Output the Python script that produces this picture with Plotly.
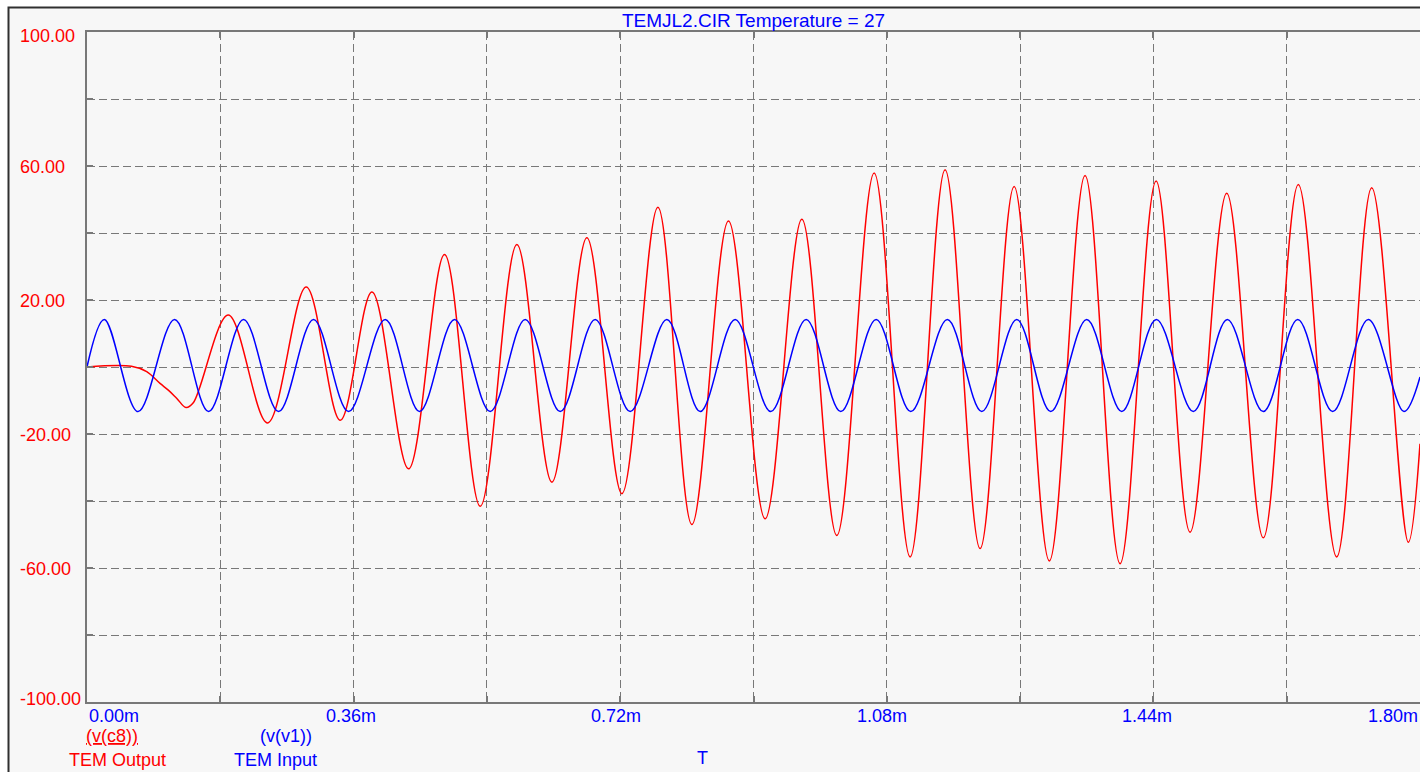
import plotly.graph_objects as go

# ---------------- data (time in ms, volts) ----------------
input_t = [0.0, 0.0234, 0.0689, 0.1183, 0.1642, 0.2114, 0.2587, 0.3059, 0.3532,
           0.4027, 0.4490, 0.4963, 0.5445, 0.5917, 0.6390, 0.6862, 0.7335,
           0.7830, 0.8280, 0.8752, 0.9234, 0.9711, 1.0179, 1.0656, 1.1124,
           1.1618, 1.2083, 1.2555, 1.3014, 1.3500, 1.3973, 1.4440, 1.4939,
           1.5398, 1.5884, 1.6349, 1.6821, 1.7302, 1.7784, 1.8000]
input_v = [0.0, 14.2, -13.3, 14.2, -13.3, 14.2, -13.3, 14.2, -13.3,
           14.2, -13.3, 14.2, -13.3, 14.2, -13.3, 14.2, -13.3,
           14.2, -13.3, 14.2, -13.3, 14.2, -13.3, 14.2, -13.3,
           14.2, -13.3, 14.2, -13.3, 14.2, -13.3, 14.2, -13.3,
           14.2, -13.3, 14.2, -13.3, 14.2, -13.3, -3.0]

output_t = [0.0, 0.0600, 0.0806, 0.0986, 0.1098, 0.1210, 0.1337, 0.1435,
            0.1908, 0.2438, 0.2960, 0.3420, 0.3848, 0.4342, 0.4828, 0.5310,
            0.5805, 0.6278, 0.6750, 0.7223, 0.7709, 0.8168, 0.8662, 0.9157,
            0.9653, 1.0125, 1.0629, 1.1115, 1.1587, 1.2060, 1.2519, 1.2995,
            1.3477, 1.3950, 1.4436, 1.4895, 1.5390, 1.5884, 1.6357, 1.6875,
            1.7348, 1.7842, 1.8000]
output_v = [0.0, 0.2, -1.4, -4.9, -6.9, -9.3, -12.1, -10.7,
            15.5, -16.7, 23.9, -15.9, 22.4, -30.4, 33.6, -41.6,
            36.6, -34.4, 38.6, -37.8, 47.7, -47.0, 43.6, -45.3,
            44.1, -50.3, 57.9, -56.7, 58.9, -54.2, 53.9, -57.9,
            57.2, -58.7, 55.5, -49.3, 51.9, -51.0, 54.5, -56.7,
            53.5, -52.3, -22.9]

y_tick_vals = [100, 60, 20, -20, -60, -100]
y_tick_text = ["100.00", "60.00", "20.00", "-20.00", "-60.00", "-100.00"]
x_tick_vals = [0.0, 0.36, 0.72, 1.08, 1.44, 1.80]
x_tick_text = ["0.00m", "0.36m", "0.72m", "1.08m", "1.44m", "1.80m"]

title_text = "TEMJL2.CIR Temperature = 27"
out_name, out_desc = "<u>(v(c8))</u>", "TEM Output"
in_name, in_desc = "(v(v1))", "TEM Input"
x_title = "T"

# ---------------- layout geometry ----------------
W, H = 1420, 772
L, R, T, B = 87, 0, 32, 70
PW, PH = W - L - R, H - T - B
RED, BLUE = "#ff0000", "#0000ff"
GRID = "#787878"
FONT = "Liberation Sans, Arial, sans-serif"
FS = 18


def px(xpage):
    return (xpage - L) / PW


def py(ypage):
    return (H - B - ypage) / PH


fig = go.Figure()
fig.add_trace(go.Scatter(x=output_t, y=output_v, mode="lines",
                         line=dict(color=RED, width=1.5, shape="spline", smoothing=1.0),
                         hoverinfo="skip"))
fig.add_trace(go.Scatter(x=input_t, y=input_v, mode="lines",
                         line=dict(color=BLUE, width=1.5, shape="spline", smoothing=1.0),
                         hoverinfo="skip"))

ann = []
# y tick labels (left aligned, red)
for v, t in zip(y_tick_vals, y_tick_text):
    shift = -4 if v == max(y_tick_vals) else (3 if v == min(y_tick_vals) else -1)
    ann.append(dict(text=t, xref="paper", x=px(18), xanchor="left",
                    yref="y", y=v, yanchor="middle", yshift=shift,
                    showarrow=False, font=dict(color=RED, size=FS, family=FONT)))
# x tick labels (blue)
for i, (v, t) in enumerate(zip(x_tick_vals, x_tick_text)):
    anchor = "left" if i == 0 else ("right" if i == len(x_tick_vals) - 1 else "center")
    xs = 0 if anchor != "center" else -2 - i
    ann.append(dict(text=t, xref="x", x=v, xanchor=anchor, xshift=xs,
                    yref="paper", y=0, yanchor="middle", yshift=-14,
                    showarrow=False, font=dict(color=BLUE, size=FS, family=FONT)))
# bottom legend texts
for text, color, cx, cy in [(out_name, RED, 112, 736), (out_desc, RED, 117, 760),
                            (in_name, BLUE, 286, 736), (in_desc, BLUE, 275, 760),
                            (x_title, BLUE, 702, 758)]:
    ann.append(dict(text=text, xref="paper", x=px(cx), xanchor="center",
                    yref="paper", y=py(cy), yanchor="middle",
                    showarrow=False, font=dict(color=color, size=FS, family=FONT)))

shapes = [
    dict(type="rect", xref="paper", yref="paper", layer="below",
         x0=px(8.5), x1=px(W + 10), y0=py(H + 10), y1=py(7.5),
         fillcolor="#f7f7f7", line=dict(color="#303030", width=2)),
]

fig.update_layout(
    width=W, height=H,
    margin=dict(l=L, r=R, t=T, b=B, pad=0),
    paper_bgcolor="#ffffff",
    plot_bgcolor="#f7f7f7",
    showlegend=False,
    title=dict(text=title_text, x=0.5, xref="paper", xanchor="center",
               y=1 - 20 / H, yref="container", yanchor="middle",
               font=dict(color=BLUE, size=19, family=FONT)),
    xaxis=dict(range=[0, 1.8], tick0=0, dtick=0.18, showticklabels=False,
               showgrid=True, gridcolor=GRID, gridwidth=1, griddash="8px,4px",
               zeroline=False, showline=True, linecolor=GRID, linewidth=1.5,
               mirror="ticks", ticks="inside", ticklen=6, tickcolor=GRID,
               tickwidth=1.5, fixedrange=True),
    yaxis=dict(range=[-100, 100], tick0=0, dtick=20, showticklabels=False,
               showgrid=True, gridcolor=GRID, gridwidth=1, griddash="8px,4px",
               zeroline=False, showline=True, linecolor=GRID, linewidth=1.5,
               ticks="inside", ticklen=6, tickcolor=GRID, tickwidth=1.5,
               fixedrange=True),
    annotations=ann,
    shapes=shapes,
)

fig.write_html(
    "out.html",
    config={"displayModeBar": False},
    post_script="document.body.style.margin='0';document.body.style.overflow='hidden';",
)
